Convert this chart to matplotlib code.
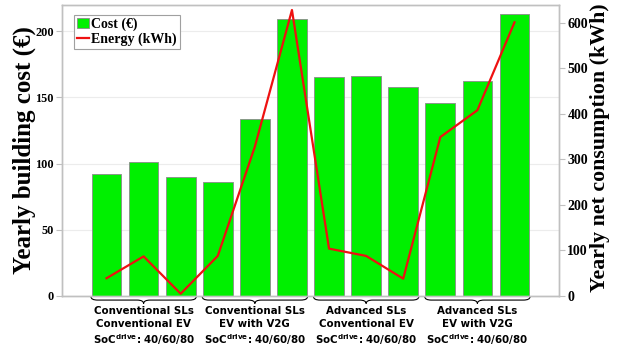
import matplotlib
matplotlib.use('Agg')
import matplotlib.pyplot as plt
from matplotlib.path import Path
from matplotlib.patches import PathPatch, Patch
from matplotlib.lines import Line2D
import matplotlib.transforms as mtransforms

# ---- data -----------------------------------------------------------------
cost = [92, 101, 90, 86, 133.5, 209, 165.5, 166, 158, 145.5, 162.5, 212.5]   # EUR
energy = [39, 87, 5, 88, 328, 628, 104, 88, 38, 349, 408, 601]              # kWh
groups = [
    'Conventional SLs\nConventional EV',
    'Conventional SLs\nEV with V2G',
    'Advanced SLs\nConventional EV',
    'Advanced SLs\nEV with V2G',
]
soc_line = r'SoC$^{\mathbf{drive}}$: 40/60/80'
# ---------------------------------------------------------------------------

plt.rcParams['mathtext.fontset'] = 'dejavusans'
SERIF = 'Liberation Serif'
SPINE = '#c0c0c0'

fig = plt.figure(figsize=(6.25, 3.51), dpi=100)
ax = fig.add_axes([0.0992, 0.1567, 0.7952, 0.8303])
ax2 = ax.twinx()

x = list(range(len(cost)))
ax.bar(x, cost, width=0.8, color='#00f000', edgecolor='#8a8a8a', lw=0.6, zorder=2)
ax2.plot(x, energy, color='#ee1111', lw=1.6, zorder=3)

ax.set_xlim(-1.2, 12.2)
ax.set_ylim(0, 220)
ax2.set_ylim(0, 640)
ax.set_yticks([0, 50, 100, 150, 200])
ax2.set_yticks([0, 100, 200, 300, 400, 500, 600])
ax.set_xticks([])
ax.yaxis.grid(True, color='#ececec', lw=0.8, zorder=0)
ax.set_axisbelow(True)

for a, fs in ((ax, 8.8), (ax2, 10)):
    for s in a.spines.values():
        s.set_color(SPINE)
        s.set_linewidth(1.0)
    a.tick_params(axis='y', colors=SPINE, length=4, width=0.8, direction='out', pad=2)
    for lab in a.get_yticklabels():
        lab.set_color('black')
        lab.set_fontfamily(SERIF)
        lab.set_fontweight('bold')
        lab.set_fontsize(fs)

lab1 = ax.set_ylabel('Yearly building cost (€)', fontfamily=SERIF, fontweight='bold',
                     fontsize=18)
lab2 = ax2.set_ylabel('Yearly net consumption (kWh)', fontfamily=SERIF, fontweight='bold',
                      fontsize=18)
ax.yaxis.set_label_coords(-0.052, 0.5)
ax2.yaxis.set_label_coords(1.062, 0.51)

# fit the axis titles to the lengths they have in the reference (px)
fig.canvas.draw()
rend = fig.canvas.get_renderer()
for lab, target in ((lab1, 248), (lab2, 288)):
    h = lab.get_window_extent(rend).height
    lab.set_fontsize(18 * target / h)

# curly braces under each group of three bars
trans = mtransforms.blended_transform_factory(ax.transData, ax.transAxes)
for g, name in enumerate(groups):
    x0, x1 = 3 * g - 0.42, 3 * g + 2 + 0.42
    xm = (x0 + x1) / 2
    y0, h, r = -0.002, 0.024, 0.18
    ym = y0 - h / 2
    verts = [(x0, y0), (x0, ym), (x0 + r, ym), (xm - r, ym), (xm, ym), (xm, y0 - h),
             (xm, ym), (xm + r, ym), (x1 - r, ym), (x1, ym), (x1, y0)]
    codes = [Path.MOVETO, Path.CURVE3, Path.CURVE3, Path.LINETO, Path.CURVE3, Path.CURVE3,
             Path.CURVE3, Path.CURVE3, Path.LINETO, Path.CURVE3, Path.CURVE3]
    ax.add_patch(PathPatch(Path(verts, codes), transform=trans, fill=False,
                           edgecolor='black', lw=0.8, clip_on=False))
    ax.text(xm, -0.036, name + '\n' + soc_line, transform=trans, ha='center', va='top',
            fontsize=7.4, fontweight='bold', fontfamily='DejaVu Sans', linespacing=1.3)

handles = [Patch(facecolor='#00f000', edgecolor='#8a8a8a', lw=0.6),
           Line2D([], [], color='#ee1111', lw=1.6)]
leg = ax2.legend(handles, ['Cost (€)', 'Energy (kWh)'], loc='upper left',
                 bbox_to_anchor=(0.024, 0.965), borderaxespad=0, fancybox=False,
                 framealpha=1, edgecolor='#a0a0a0', handlelength=0.9, handleheight=0.7,
                 handletextpad=0.15, borderpad=0.2, labelspacing=0.1,
                 prop={'family': SERIF, 'weight': 'bold', 'size': 10})
leg.get_frame().set_linewidth(0.8)

fig.savefig('out.png', dpi=100)
